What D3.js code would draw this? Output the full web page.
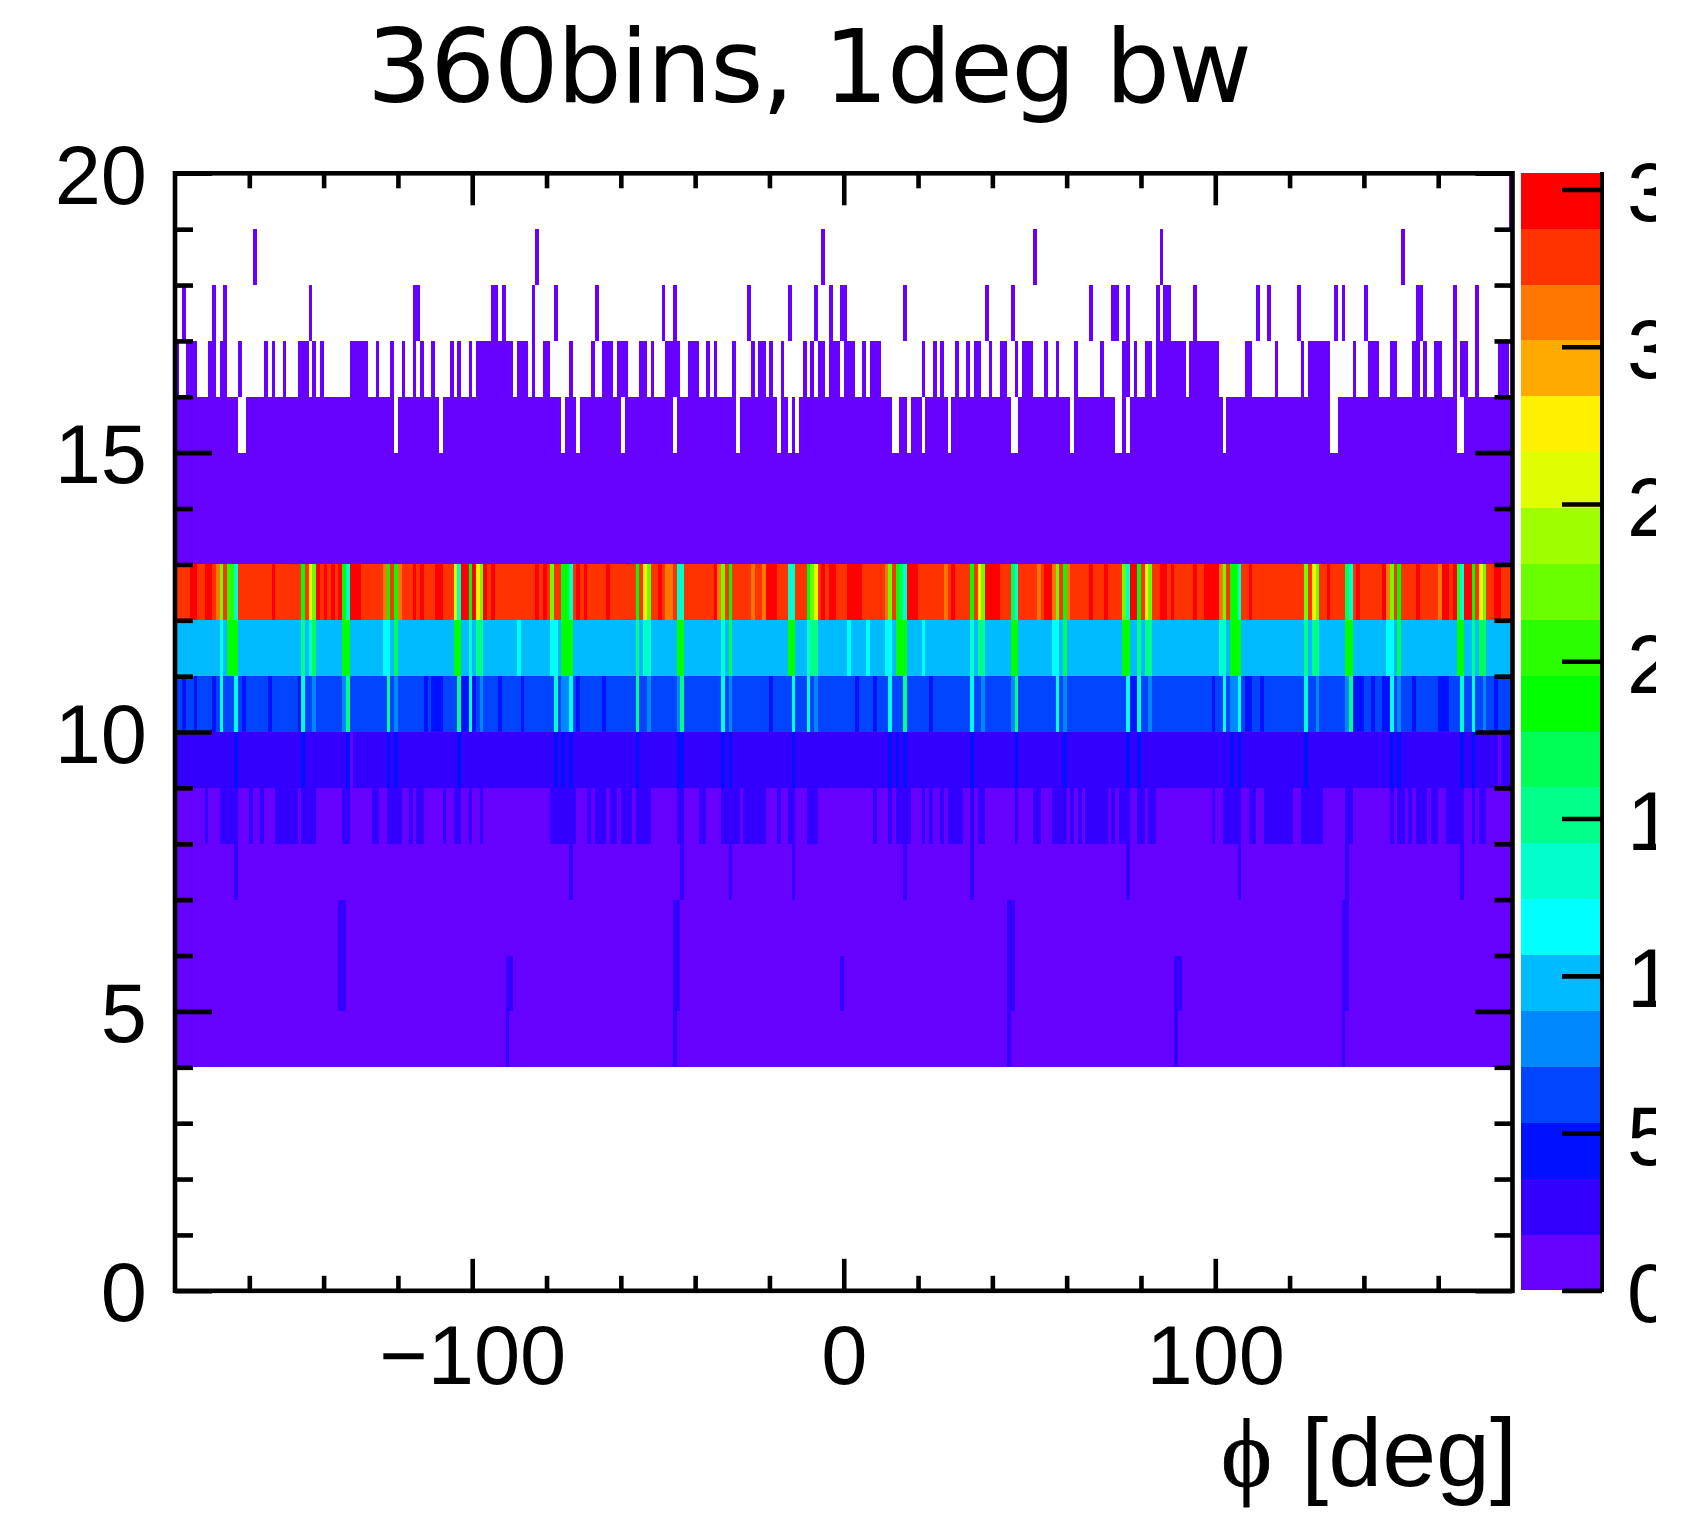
<!DOCTYPE html>
<html><head><meta charset="utf-8">
<script src="https://cdnjs.cloudflare.com/ajax/libs/d3/7.8.5/d3.min.js"></script>
<style>html,body{margin:0;padding:0;background:#fff;overflow:hidden}svg{display:block}</style>
</head><body><svg id="c" width="1691" height="1528"></svg>
<script>
const titleText = "360bins, 1deg bw";
const xLabelSymbol = "\u03D5";
const xLabelText = "[deg]";
const bandColors = ["#6600ff","#3300ff","#0011ff","#0044ff","#0088ff","#00bbff","#00ffff","#00ffcc","#00ff88","#00ff55","#00ff00","#2aff00","#6aff00","#9fff00","#dfff00","#fff000","#ffaa00","#ff7700","#ff3300","#ff0000"];
const xMinorTicks = [-160,-140,-120,-80,-60,-40,-20,20,40,60,80,120,140,160];
const xMajorTicks = [-100,0,100];
const yMinorTicks = [1,2,3,4,6,7,8,9,11,12,13,14,16,17,18,19];
const yMajorTicks = [0,5,10,15,20];
const zTicks = [0,50,100,150,200,250,300,350];

// Row y 19-20 .. 16-17: bins holding an entry (count 9)
const row19Bins = [359];
const row18Bins = [21,97,174,231,265,330];
const row17Bins = [2,10,13,36,64,65,85,86,88,96,102,113,131,134,154,165,172,176,179,180,196,218,225,246,252,253,256,264,266,267,274,291,294,302,312,314,320,334,335,344,350];
const row16Bins = [0,3,4,5,9,10,12,13,17,24,26,29,33,34,35,37,39,47,48,49,50,51,54,58,61,64,66,69,74,76,79,81,82,83,84,85,86,87,88,89,90,92,93,94,96,99,100,106,112,115,116,117,119,120,121,125,126,128,132,133,134,135,138,139,140,143,145,150,155,157,158,160,163,169,171,173,174,176,177,178,180,181,182,185,187,188,189,201,204,206,210,213,215,216,219,222,223,226,228,229,230,234,237,242,249,255,256,258,261,262,264,265,266,267,268,269,270,271,273,274,275,276,277,278,279,280,288,289,296,303,305,306,307,308,309,310,317,321,322,323,327,328,333,334,336,339,340,344,346,347,350,356,357,358];
// Row y 15-16: filled except these bins
const row15Gaps = [17,18,59,71,104,108,120,134,151,162,165,167,193,194,197,201,208,225,226,241,253,254,256,282,311,312,345,346];

// Full rows: base count and [count, bins] deviations
const row4Base = 9;
const row4Dev = [[27,[89,134,224,269,314]]];
const row5Base = 9;
const row5Dev = [[27,[44,45,89,90,134,135,179,224,225,269,270,314,315]]];
const row6Base = 9;
const row6Dev = [[27,[44,45,134,135,224,225,314,315]]];
const row7Base = 9;
const row7Dev = [[27,[16,106,136,149,166,196,214,256,286,315,346]]];
const row8Base = 9;
const row8Dev = [[27,[8,12,13,14,15,16,20,23,27,28,29,30,31,32,34,35,36,37,45,46,53,54,57,58,59,60,63,65,66,72,75,76,79,82,101,102,103,104,105,106,107,111,113,114,115,117,118,120,121,122,124,125,126,127,135,136,141,142,147,148,149,150,151,153,154,155,156,157,158,162,165,166,170,171,172,188,192,194,195,196,197,201,203,206,208,209,210,211,214,216,217,226,231,232,236,237,238,239,241,243,245,246,247,248,249,250,252,254,255,256,259,260,262,263,279,282,283,284,285,286,289,290,293,294,295,296,297,298,299,300,303,304,305,306,307,308,315,316,327,329,330,332,334,335,336,338,339,342,343,344,345,346,349,351,352]]];
const row9Base = 27;
const row9Dev = [[44,[16,34,46,57,59,76,102,104,106,124,135,136,147,149,166,192,194,196,214,226,239,256,259,284,286,304,327,329,346,349]],[9,[47,356]]];
const row10Base = 62;
const row10Dev = [[44,[2,5,10,18,25,33,67,69,70,71,77,78,80,87,93,108,115,160,183,188,203,257,258,279,288,289,292,317,318,319,322,325,326,333,340,341,342,355]],[80,[37,45,59,82,104,105,127,135,149,172,217,225,239,262,284,285,307,315,329,352]],[116,[12,16,79,106,147,166,192,214,237,256,282,286,327,349]],[133,[34,102,170,259,304,346]],[151,[46,57,76,124,136,196,226,316]]];
const row11Base = 98;
const row11Dev = [[116,[12,56,57,92,101,102,181,186,191,192,201,236,237,326,327]],[133,[36,79,126,127,147,170,214,281,282]],[151,[34,81,82,124,171,172,216,217,259,261,262,304,306,307,349]],[169,[37,59,149,239,329,351,352]],[187,[14,15,16,45,46,75,76,104,105,106,135,136,165,166,194,195,196,225,226,255,256,284,285,286,315,316,345,346]]];
const row12Base = 329;
const row12Dev = [[346,[4,5,8,9,26,38,40,42,44,47,48,49,64,66,70,71,77,78,80,83,85,97,99,108,110,116,130,145,159,160,161,174,176,177,181,182,183,184,197,198,199,209,218,219,220,221,234,235,246,250,257,258,265,266,268,274,277,278,279,280,289,310,318,325,334,341,342,344,347,348,355,356]],[311,[11,56,60,132,133,146,155,158,191,207,232,236,240,281,326,340]],[275,[36,81,126,216,261,306,351]],[258,[75,172]],[222,[12,37,82,101,127,147,171,192,217,237,255,262,282,304,307,327,352]],[187,[34,45,57,59,79,104,105,124,149,170,194,214,239,259,284,285,329,349]],[204,[14,15,345]],[169,[195,225,315]],[133,[16,46,76,106,135,136,165,166,196,226,256,286,316,346]]];
const row13Base = 9;
const row14Base = 9;

const W = 1691, H = 1528;
const svg = d3.select("#c");
const x = d3.scaleLinear().domain([-180,180]).range([175,1512.5]);
const y = d3.scaleLinear().domain([0,20]).range([1290.8,173.3]);
const z = d3.scaleLinear().domain([0,355.3]).range([1290.4,172.8]);
const color = d3.scaleQuantize().domain([0,355.3]).range(bandColors);

const bins = d3.range(360);
function fullRow(base, dev){
  const m = new Map(bins.map(b=>[b,base]));
  (dev||[]).forEach(([c,list])=>list.forEach(b=>m.set(b,c)));
  return Array.from(m,([bin,count])=>({bin,count}));
}
const sparse = list => list.map(bin=>({bin,count:9}));
const rows = [
  [4,fullRow(row4Base,row4Dev)],[5,fullRow(row5Base,row5Dev)],[6,fullRow(row6Base,row6Dev)],
  [7,fullRow(row7Base,row7Dev)],[8,fullRow(row8Base,row8Dev)],[9,fullRow(row9Base,row9Dev)],
  [10,fullRow(row10Base,row10Dev)],[11,fullRow(row11Base,row11Dev)],[12,fullRow(row12Base,row12Dev)],
  [13,fullRow(row13Base)],[14,fullRow(row14Base)],
  [15,fullRow(9).filter(d=>!row15Gaps.includes(d.bin))],
  [16,sparse(row16Bins)],[17,sparse(row17Bins)],[18,sparse(row18Bins)],[19,sparse(row19Bins)]
];
const cells = svg.append("g").attr("shape-rendering","crispEdges");
rows.forEach(([low,data])=>{
  cells.append("g").selectAll("rect").data(data).join("rect")
    .attr("x",d=>x(-180+d.bin)).attr("width",d=>x(-179+d.bin)-x(-180+d.bin))
    .attr("y",y(low+1)).attr("height",y(low)-y(low+1))
    .attr("fill",d=>color(d.count));
});

// colour bar
svg.append("g").attr("shape-rendering","crispEdges").selectAll("rect").data(bandColors).join("rect")
  .attr("x",1521).attr("width",79)
  .attr("y",(d,i)=>z(355.3*(i+1)/20)).attr("height",(d,i)=>z(355.3*i/20)-z(355.3*(i+1)/20))
  .attr("fill",d=>d);

const LW = 4.6;
function styleAxis(g,size){
  g.select(".domain").remove();
  g.selectAll("line").attr("stroke","#000").attr("stroke-width",LW);
  g.selectAll("text").attr("font-family","'Liberation Sans',Arial,sans-serif").attr("font-size",size).attr("fill","#000");
}
const noLabel = "";
const axes = svg.append("g");
// x
axes.append("g").attr("transform",`translate(0,${y(0)})`).call(d3.axisBottom(x).tickValues(xMinorTicks).tickSize(-15).tickFormat(()=>noLabel)).call(styleAxis,0);
const xb = axes.append("g").attr("transform",`translate(0,${y(0)})`).call(d3.axisBottom(x).tickValues(xMajorTicks).tickSize(-32).tickFormat(d=>d<0?"\u2212"+Math.abs(d):d)).call(styleAxis,83);
xb.selectAll("text").attr("y",93.5).attr("dy",0).attr("dx",0);
axes.append("g").attr("transform",`translate(0,${y(20)})`).call(d3.axisTop(x).tickValues(xMinorTicks).tickSize(-15).tickFormat(()=>noLabel)).call(styleAxis,0);
axes.append("g").attr("transform",`translate(0,${y(20)})`).call(d3.axisTop(x).tickValues(xMajorTicks).tickSize(-32).tickFormat(()=>noLabel)).call(styleAxis,0);
// y
axes.append("g").attr("transform",`translate(${x(-180)},0)`).call(d3.axisLeft(y).tickValues(yMinorTicks).tickSize(-18).tickFormat(()=>noLabel)).call(styleAxis,0);
const yl = axes.append("g").attr("transform",`translate(${x(-180)},0)`).call(d3.axisLeft(y).tickValues(yMajorTicks).tickSize(-37)).call(styleAxis,83);
yl.selectAll("text").attr("x",-28).attr("dy",0).attr("y",30).attr("text-anchor","end");
axes.append("g").attr("transform",`translate(${x(180)},0)`).call(d3.axisRight(y).tickValues(yMinorTicks).tickSize(-18).tickFormat(()=>noLabel)).call(styleAxis,0);
axes.append("g").attr("transform",`translate(${x(180)},0)`).call(d3.axisRight(y).tickValues(yMajorTicks).tickSize(-37).tickFormat(()=>noLabel)).call(styleAxis,0);
// frame
axes.append("rect").attr("x",x(-180)).attr("y",y(20)).attr("width",x(180)-x(-180)).attr("height",y(0)-y(20))
  .attr("fill","none").attr("stroke","#000").attr("stroke-width",LW);

// colour bar axis, labels cut by the picture's right edge as in the reference
const defs = svg.append("defs");
defs.append("clipPath").attr("id","crop").append("rect").attr("x",0).attr("y",0).attr("width",1656).attr("height",H);
const zg = svg.append("g").attr("clip-path","url(#crop)");
const za = zg.append("g").attr("transform","translate(1602,0)").call(d3.axisRight(z).tickValues(zTicks).tickSize(-40)).call(styleAxis,83);
za.selectAll("text").attr("x",25).attr("dy",0).attr("y",31).attr("text-anchor","start");
zg.append("line").attr("x1",1602).attr("x2",1602).attr("y1",172).attr("y2",1292).attr("stroke","#000").attr("stroke-width",4);

// title
svg.append("text").attr("x",367).attr("y",102).attr("font-family","'DejaVu Sans',sans-serif").attr("font-size",102)
  .attr("textLength",885).attr("lengthAdjust","spacing").attr("fill","#000").text(titleText);
// x title
svg.append("text").attr("x",1517).attr("y",1486).attr("text-anchor","end").attr("font-family","'Liberation Sans',Arial,sans-serif").attr("font-size",97).attr("fill","#000").text(xLabelText);
svg.append("text").attr("x",1221).attr("y",1486).attr("font-family","'Liberation Serif','DejaVu Serif',serif").attr("font-size",97).attr("stroke","#000").attr("stroke-width",0.8).attr("fill","#000").text(xLabelSymbol);
</script></body></html>
